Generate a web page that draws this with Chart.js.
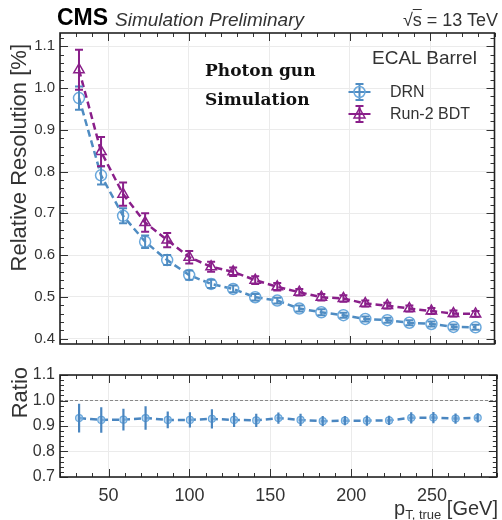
<!DOCTYPE html>
<html>
<head>
<meta charset="utf-8">
<script src="https://cdn.jsdelivr.net/npm/chart.js@4.4.0/dist/chart.umd.min.js"></script>
<style>
  html, body { margin: 0; padding: 0; background: #fff; }
  #wrap { position: relative; width: 502px; height: 520px; overflow: hidden;
          font-family: "Liberation Sans", Arial, sans-serif; color: #222; }
  #wrap canvas { position: absolute; left: 0; }
  .lbl { position: absolute; white-space: nowrap; line-height: 1; }
  .rot { position: absolute; white-space: nowrap; width: 300px; text-align: right;
         transform-origin: left top; transform: rotate(-90deg);
         font-size: 22px; line-height: 22px; color: #333; }
</style>
</head>
<body>
<div id="wrap">
  <canvas id="mainChart" width="502" height="360" style="top:0"></canvas>
  <canvas id="ratioChart" width="502" height="160" style="top:360px"></canvas>

  <div class="lbl" style="left:57px;top:6px;font-size:23px;font-weight:bold;color:#000">CMS</div>
  <div class="lbl" style="left:115px;top:10px;font-size:19px;font-style:italic;color:#333">Simulation Preliminary</div>
  <div class="lbl" style="right:4px;top:11px;font-size:18px;color:#333">&radic;<span style="text-decoration:overline">s</span> = 13 TeV</div>

  <div class="lbl" style="left:205px;top:56px;font-family:'DejaVu Serif',serif;font-weight:bold;font-size:17px;line-height:29px;color:#111">Photon gun<br>Simulation</div>

  <div class="lbl" style="left:372px;top:48px;font-size:19px;color:#333">ECAL Barrel</div>
  <div class="lbl" style="left:390px;top:84px;font-size:16px;color:#333">DRN</div>
  <div class="lbl" style="left:390px;top:106px;font-size:16px;color:#333">Run-2 BDT</div>

  <div class="rot" style="left:8px;top:344px">Relative Resolution [%]</div>
  <div class="rot" style="left:9px;top:667px">Ratio</div>

  <div class="lbl" style="right:4px;top:498px;font-size:20px;line-height:20px;color:#333">p<span style="font-size:13px;vertical-align:-4px">T, true</span> [GeV]</div>
</div>

<script>
// bin centres of p_T,true [GeV]
const ptTrue = [31.8, 45.5, 59.2, 72.9, 86.6, 100.3, 113.9, 127.6, 141.3, 155.0,
                168.7, 182.4, 196.1, 209.7, 223.4, 237.1, 250.8, 264.5, 278.2];

// relative resolution [%]
const drnRes = [0.976, 0.791, 0.694, 0.632, 0.588, 0.552, 0.531, 0.519, 0.499, 0.491,
                0.472, 0.463, 0.456, 0.447, 0.444, 0.438, 0.435, 0.428, 0.427];
const drnErr = [0.028, 0.022, 0.018, 0.015, 0.012, 0.011, 0.010, 0.008, 0.008, 0.007,
                0.007, 0.007, 0.006, 0.006, 0.006, 0.006, 0.006, 0.006, 0.006];
const bdtRes = [1.044, 0.848, 0.746, 0.678, 0.636, 0.595, 0.572, 0.560, 0.540, 0.524,
                0.511, 0.499, 0.496, 0.484, 0.479, 0.472, 0.466, 0.460, 0.459];
const bdtErr = [0.048, 0.035, 0.028, 0.022, 0.017, 0.015, 0.012, 0.010, 0.009, 0.009,
                0.008, 0.008, 0.008, 0.007, 0.007, 0.007, 0.007, 0.007, 0.007];

// DRN / BDT
const ratioVals = [0.931, 0.924, 0.925, 0.931, 0.924, 0.924, 0.928, 0.924, 0.922, 0.931,
                   0.924, 0.919, 0.921, 0.921, 0.922, 0.932, 0.933, 0.929, 0.932];
const ratioErr = [0.056, 0.050, 0.043, 0.046, 0.033, 0.030, 0.038, 0.028, 0.026, 0.022,
                  0.024, 0.020, 0.018, 0.020, 0.018, 0.022, 0.022, 0.020, 0.018];
const ratioRef = 1.0;

const seriesNames = ["DRN", "Run-2 BDT"];

const FONT = "'Liberation Sans', Arial, sans-serif";
const DRN_LINE = "#4f8cc2";
const DRN_MARK = "#6aa8dc";
const BDT_COL = "#8a1f8a";

const toPoints = (ys) => ptTrue.map((x, i) => ({ x: x, y: ys[i] }));

// vertical error bars
const errorBars = {
  id: "errorBars",
  afterDatasetsDraw(chart) {
    const { ctx, scales: { x, y } } = chart;
    chart.data.datasets.forEach((ds) => {
      if (!ds.errors) return;
      ctx.save();
      ctx.strokeStyle = ds.errColor || ds.borderColor;
      ctx.lineWidth = ds.errWidth || 2;
      ctx.beginPath();
      ds.data.forEach((p, j) => {
        const px = x.getPixelForValue(p.x);
        const y0 = y.getPixelForValue(p.y - ds.errors[j]);
        const y1 = y.getPixelForValue(p.y + ds.errors[j]);
        ctx.moveTo(px, y0); ctx.lineTo(px, y1);
        if (ds.cap) {
          ctx.moveTo(px - ds.cap, y0); ctx.lineTo(px + ds.cap, y0);
          ctx.moveTo(px - ds.cap, y1); ctx.lineTo(px + ds.cap, y1);
        }
      });
      ctx.stroke();
      ctx.restore();
    });
  }
};

// frame with inward major / minor ticks on all four sides
const frameTicks = {
  id: "frameTicks",
  afterDraw(chart, args, opts) {
    const { ctx, chartArea: a, scales: { x, y } } = chart;
    ctx.save();
    ctx.strokeStyle = "#333";
    ctx.lineWidth = 1;
    ctx.beginPath();
    const nx = Math.round(opts.xMajor / opts.xMinor);
    for (let k = Math.ceil(x.min / opts.xMinor); k * opts.xMinor <= x.max; k++) {
      const px = Math.round(x.getPixelForValue(k * opts.xMinor)) + 0.5;
      const len = k % nx === 0 ? 8 : 4;
      ctx.moveTo(px, a.bottom); ctx.lineTo(px, a.bottom - len);
      ctx.moveTo(px, a.top); ctx.lineTo(px, a.top + len);
    }
    const ny = Math.round(opts.yMajor / opts.yMinor);
    for (let k = Math.ceil(y.min / opts.yMinor - 1e-6); k * opts.yMinor <= y.max + 1e-9; k++) {
      const py = Math.round(y.getPixelForValue(k * opts.yMinor)) + 0.5;
      const len = k % ny === 0 ? 8 : 4;
      ctx.moveTo(a.left, py); ctx.lineTo(a.left + len, py);
      ctx.moveTo(a.right, py); ctx.lineTo(a.right - len, py);
    }
    ctx.stroke();
    ctx.lineWidth = 1.6;
    ctx.strokeStyle = "#222";
    ctx.strokeRect(a.left, a.top, a.width, a.height);
    ctx.restore();
  }
};

// dashed reference line in the ratio panel
const refLine = {
  id: "refLine",
  beforeDatasetsDraw(chart) {
    const { ctx, chartArea: a, scales: { y } } = chart;
    const py = y.getPixelForValue(ratioRef);
    ctx.save();
    ctx.strokeStyle = "#888";
    ctx.lineWidth = 1;
    ctx.setLineDash([3, 2]);
    ctx.beginPath();
    ctx.moveTo(a.left, py); ctx.lineTo(a.right, py);
    ctx.stroke();
    ctx.restore();
  }
};

// legend symbols (text is in the page)
const legendMarks = {
  id: "legendMarks",
  afterDraw(chart) {
    const { ctx, chartArea: a } = chart;
    chart.data.datasets.forEach((ds, i) => {
      const cx = a.right - 135, cy = a.top + 59 + i * 22;
      ctx.save();
      ctx.strokeStyle = ds.borderColor;
      ctx.lineWidth = 2;
      ctx.beginPath();
      ctx.moveTo(cx - 11, cy); ctx.lineTo(cx + 11, cy);
      ctx.moveTo(cx, cy - 8); ctx.lineTo(cx, cy + 8);
      ctx.moveTo(cx - 4, cy - 8); ctx.lineTo(cx + 4, cy - 8);
      ctx.moveTo(cx - 4, cy + 8); ctx.lineTo(cx + 4, cy + 8);
      ctx.stroke();
      ctx.strokeStyle = ds.pointBorderColor;
      ctx.lineWidth = 1.5;
      ctx.beginPath();
      if (ds.pointStyle === "triangle") {
        ctx.moveTo(cx, cy - 6); ctx.lineTo(cx + 5.5, cy + 4); ctx.lineTo(cx - 5.5, cy + 4); ctx.closePath();
      } else {
        ctx.arc(cx, cy, 5.5, 0, Math.PI * 2);
      }
      ctx.stroke();
      ctx.restore();
    });
  }
};

const tickFont = (size) => ({ family: FONT, size: size });

new Chart(document.getElementById("mainChart"), {
  type: "line",
  data: {
    datasets: [
      {
        label: seriesNames[0],
        data: toPoints(drnRes),
        errors: drnErr,
        cap: 4,
        errWidth: 2,
        borderColor: DRN_LINE,
        borderWidth: 2.5,
        borderDash: [7, 4],
        pointStyle: "circle",
        pointRadius: 5.5,
        pointBorderColor: DRN_MARK,
        pointBorderWidth: 1.5,
        pointBackgroundColor: "rgba(255,255,255,0)",
        fill: false,
        tension: 0
      },
      {
        label: seriesNames[1],
        data: toPoints(bdtRes),
        errors: bdtErr,
        cap: 4,
        errWidth: 2,
        borderColor: BDT_COL,
        borderWidth: 2.5,
        borderDash: [7, 4],
        pointStyle: "triangle",
        pointRadius: 6,
        pointBorderColor: BDT_COL,
        pointBorderWidth: 1.5,
        pointBackgroundColor: "rgba(255,255,255,0)",
        fill: false,
        tension: 0
      }
    ]
  },
  options: {
    responsive: false,
    animation: false,
    layout: { padding: { top: 33, right: 5, left: 0, bottom: 0 } },
    plugins: {
      legend: { display: false },
      tooltip: { enabled: false },
      frameTicks: { xMajor: 50, xMinor: 10, yMajor: 0.1, yMinor: 0.02 }
    },
    scales: {
      x: {
        type: "linear",
        min: 20,
        max: 290,
        ticks: { display: false, stepSize: 50 },
        grid: { color: "#ebebeb", drawTicks: false },
        border: { display: false },
        afterFit(s) { s.height = 16; }
      },
      y: {
        min: 0.387,
        max: 1.132,
        ticks: {
          stepSize: 0.1,
          includeBounds: false,
          font: tickFont(15),
          color: "#333",
          padding: 5,
          callback: (v) => v.toFixed(1)
        },
        grid: { color: "#ebebeb", drawTicks: false },
        border: { display: false },
        afterFit(s) { s.width = 60; }
      }
    }
  },
  plugins: [errorBars, frameTicks, legendMarks]
});

new Chart(document.getElementById("ratioChart"), {
  type: "line",
  data: {
    datasets: [
      {
        label: seriesNames[0] + " / " + seriesNames[1],
        data: toPoints(ratioVals),
        errors: ratioErr,
        cap: 0,
        errWidth: 2.2,
        errColor: "#4a86c0",
        borderColor: "#4a86c0",
        borderWidth: 2.5,
        borderDash: [7, 4],
        pointStyle: "circle",
        pointRadius: 3.5,
        pointBorderColor: "#6aa8dc",
        pointBorderWidth: 1.2,
        pointBackgroundColor: "rgba(150,195,235,0.6)",
        fill: false,
        tension: 0
      }
    ]
  },
  options: {
    responsive: false,
    animation: false,
    layout: { padding: { top: 15, right: 5, left: 0, bottom: 0 } },
    plugins: {
      legend: { display: false },
      tooltip: { enabled: false },
      frameTicks: { xMajor: 50, xMinor: 10, yMajor: 0.1, yMinor: 0.02 }
    },
    scales: {
      x: {
        type: "linear",
        min: 20,
        max: 290,
        ticks: { stepSize: 50, includeBounds: false, font: tickFont(18), color: "#333", padding: 8, maxRotation: 0 },
        grid: { color: "#ebebeb", drawTicks: false },
        border: { display: false },
        afterFit(s) { s.height = 43; }
      },
      y: {
        min: 0.7,
        max: 1.1,
        ticks: {
          stepSize: 0.1,
          font: tickFont(16),
          color: "#333",
          padding: 5,
          callback: (v) => v.toFixed(1)
        },
        grid: { color: "#ebebeb", drawTicks: false },
        border: { display: false },
        afterFit(s) { s.width = 60; }
      }
    }
  },
  plugins: [refLine, errorBars, frameTicks]
});
</script>
</body>
</html>
